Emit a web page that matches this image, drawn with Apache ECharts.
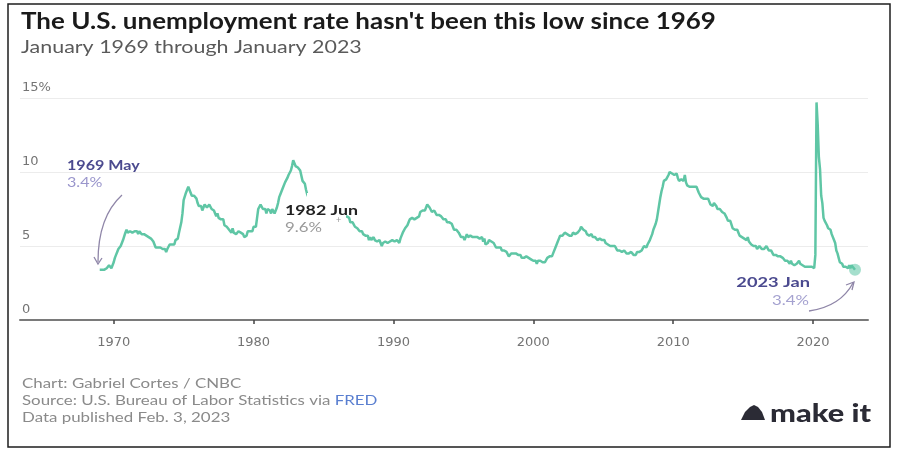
<!DOCTYPE html>
<html>
<head>
<meta charset="utf-8">
<script src="https://cdn.jsdelivr.net/npm/echarts@6/dist/echarts.min.js"></script>
<style>
  html, body { margin: 0; padding: 0; background: #ffffff; }
  #chart { width: 898px; height: 452px; }
</style>
</head>
<body>
<div id="chart"></div>
<script>
// ---- Data: U.S. unemployment rate (%), monthly, Jan 1969 - Jan 2023 ----
const startYear = 1969;
const rateByYear = [
  [3.4,3.4,3.4,3.4,3.4,3.5,3.5,3.5,3.7,3.7,3.5,3.5], // 1969
  [3.9,4.2,4.4,4.6,4.8,4.9,5.0,5.1,5.4,5.5,5.9,6.1], // 1970
  [5.9,5.9,6.0,5.9,5.9,5.9,6.0,6.1,6.0,5.8,6.0,6.0], // 1971
  [5.8,5.7,5.8,5.7,5.7,5.7,5.6,5.6,5.5,5.6,5.3,5.2], // 1972
  [4.9,5.0,4.9,5.0,4.9,4.9,4.8,4.8,4.8,4.6,4.8,4.9], // 1973
  [5.1,5.2,5.1,5.1,5.1,5.4,5.5,5.5,5.9,6.0,6.6,7.2], // 1974
  [8.1,8.1,8.6,8.8,9.0,8.8,8.6,8.4,8.4,8.4,8.3,8.2], // 1975
  [7.9,7.7,7.6,7.7,7.4,7.6,7.8,7.8,7.6,7.7,7.8,7.8], // 1976
  [7.5,7.6,7.4,7.2,7.0,7.2,6.9,7.0,6.8,6.8,6.8,6.4], // 1977
  [6.4,6.3,6.3,6.1,6.0,5.9,6.2,5.9,6.0,5.8,5.9,6.0], // 1978
  [5.9,5.9,5.8,5.8,5.6,5.7,5.7,6.0,5.9,6.0,5.9,6.0], // 1979
  [6.3,6.3,6.3,6.9,7.5,7.6,7.8,7.7,7.5,7.5,7.5,7.2], // 1980
  [7.5,7.4,7.4,7.2,7.5,7.5,7.2,7.4,7.6,7.9,8.3,8.5], // 1981
  [8.6,8.9,9.0,9.3,9.4,9.6,9.8,9.8,10.1,10.4,10.8,10.8], // 1982
  [10.4,10.4,10.3,10.2,10.1,10.1,9.4,9.5,9.2,8.8,8.5,8.3], // 1983
  [8.0,7.8,7.8,7.7,7.4,7.2,7.5,7.5,7.3,7.4,7.2,7.3], // 1984
  [7.3,7.2,7.2,7.3,7.2,7.4,7.4,7.1,7.1,7.1,7.0,7.0], // 1985
  [6.7,7.2,7.2,7.1,7.2,7.2,7.0,6.9,7.0,7.0,6.9,6.6], // 1986
  [6.6,6.6,6.6,6.3,6.3,6.2,6.1,6.0,5.9,6.0,5.8,5.7], // 1987
  [5.7,5.7,5.7,5.4,5.6,5.4,5.4,5.6,5.4,5.4,5.3,5.3], // 1988
  [5.4,5.2,5.0,5.2,5.2,5.3,5.2,5.2,5.3,5.3,5.4,5.4], // 1989
  [5.4,5.3,5.2,5.4,5.4,5.2,5.5,5.7,5.9,5.9,6.2,6.3], // 1990
  [6.4,6.6,6.8,6.7,6.9,6.9,6.8,6.9,6.9,7.0,7.0,7.3], // 1991
  [7.3,7.4,7.4,7.4,7.6,7.8,7.7,7.6,7.6,7.3,7.4,7.4], // 1992
  [7.3,7.1,7.0,7.1,7.1,7.0,6.9,6.8,6.7,6.8,6.6,6.5], // 1993
  [6.6,6.6,6.5,6.4,6.1,6.1,6.1,6.0,5.9,5.8,5.6,5.5], // 1994
  [5.6,5.4,5.4,5.8,5.6,5.6,5.7,5.7,5.6,5.5,5.6,5.6], // 1995
  [5.6,5.5,5.5,5.6,5.6,5.3,5.5,5.1,5.2,5.2,5.4,5.4], // 1996
  [5.3,5.2,5.2,5.1,4.9,5.0,4.9,4.8,4.9,4.7,4.6,4.7], // 1997
  [4.6,4.6,4.7,4.3,4.4,4.5,4.5,4.5,4.6,4.5,4.4,4.4], // 1998
  [4.3,4.4,4.2,4.3,4.2,4.3,4.3,4.2,4.2,4.1,4.1,4.0], // 1999
  [4.0,4.1,4.0,3.8,4.0,4.0,4.0,4.1,3.9,3.9,3.9,3.9], // 2000
  [4.2,4.2,4.3,4.4,4.3,4.5,4.6,4.9,5.0,5.3,5.5,5.7], // 2001
  [5.7,5.7,5.7,5.9,5.8,5.8,5.8,5.7,5.7,5.7,5.9,6.0], // 2002
  [5.8,5.9,5.9,6.0,6.1,6.3,6.2,6.1,6.1,6.0,5.8,5.7], // 2003
  [5.7,5.6,5.8,5.6,5.6,5.6,5.5,5.4,5.4,5.5,5.4,5.4], // 2004
  [5.3,5.4,5.2,5.2,5.1,5.0,5.0,4.9,5.0,5.0,5.0,4.9], // 2005
  [4.7,4.8,4.7,4.7,4.6,4.6,4.7,4.7,4.5,4.4,4.5,4.4], // 2006
  [4.6,4.5,4.4,4.5,4.4,4.6,4.7,4.6,4.7,4.7,4.7,5.0], // 2007
  [5.0,4.9,5.1,5.0,5.4,5.6,5.8,6.1,6.1,6.5,6.8,7.3], // 2008
  [7.8,8.3,8.7,9.0,9.4,9.5,9.5,9.6,9.8,10.0,9.9,9.9], // 2009
  [9.8,9.8,9.9,9.9,9.6,9.4,9.4,9.5,9.5,9.4,9.8,9.3], // 2010
  [9.1,9.0,9.0,9.1,9.0,9.1,9.0,9.0,9.0,8.8,8.6,8.5], // 2011
  [8.3,8.3,8.2,8.2,8.2,8.2,8.2,8.0,7.8,7.8,7.7,7.9], // 2012
  [8.0,7.7,7.5,7.6,7.5,7.5,7.3,7.2,7.2,7.2,6.9,6.7], // 2013
  [6.6,6.7,6.7,6.2,6.3,6.1,6.2,6.1,5.9,5.7,5.8,5.6], // 2014
  [5.7,5.5,5.4,5.4,5.6,5.3,5.2,5.1,5.0,5.0,5.1,5.0], // 2015
  [4.8,4.9,5.0,5.1,4.8,4.9,4.8,4.9,5.0,4.9,4.7,4.7], // 2016
  [4.7,4.6,4.4,4.4,4.4,4.3,4.3,4.4,4.3,4.2,4.2,4.1], // 2017
  [4.0,4.1,4.0,4.0,3.8,4.0,3.8,3.8,3.7,3.8,3.8,3.9], // 2018
  [4.0,3.8,3.8,3.7,3.6,3.6,3.7,3.6,3.5,3.6,3.6,3.6], // 2019
  [3.5,3.5,4.4,14.7,13.2,11.0,10.2,8.4,7.9,6.9,6.7,6.7], // 2020
  [6.4,6.2,6.1,6.1,5.8,5.9,5.4,5.2,4.7,4.5,4.2,3.9], // 2021
  [4.0,3.8,3.6,3.6,3.6,3.6,3.5,3.7,3.5,3.7,3.6,3.5], // 2022
  [3.4] // 2023
];
const xTickYears = [1970, 1980, 1990, 2000, 2010, 2020];
const yTickValues = [0, 5, 10, 15];
const yTickLabels = ['0', '5', '10', '15%'];

// Build [decimal-year, rate] pairs
const seriesData = [];
rateByYear.forEach((row, yi) => {
  row.forEach((v, m) => seriesData.push([startYear + yi + m / 12, v]));
});
const lastPoint = seriesData[seriesData.length - 1];

const LINE = '#5fc6a5';
const FONT = 'Lato, "Open Sans", sans-serif';
const AXFONT = '"DejaVu Sans", sans-serif';

function txt(x, y, text, font, fill, opts) {
  return Object.assign({ type: 'text', z: 100, x: x, y: y,
    style: { text: text, font: font, fill: fill, verticalAlign: 'middle', align: (opts && opts.align) || 'left' } },
    opts && opts.scaleX ? { scaleX: opts.scaleX } : {});
}

const chart = echarts.init(document.getElementById('chart'), null, { renderer: 'canvas' });

chart.setOption({
  animation: false,
  backgroundColor: '#ffffff',
  grid: { left: 20, right: 30, top: 98, bottom: 132, containLabel: false },
  xAxis: {
    type: 'value',
    min: 1963.3,
    max: 2023.93,
    axisLine: { show: true, lineStyle: { color: '#7a7a7a', width: 2 } },
    axisTick: { show: true, customValues: xTickYears, length: 4, lineStyle: { color: '#444', width: 1.5 } },
    axisLabel: { customValues: xTickYears, color: '#747474', fontSize: 13, fontFamily: AXFONT, margin: 16,
      formatter: v => String(v) },
    splitLine: { show: false }
  },
  yAxis: {
    type: 'value',
    min: 0,
    max: 15,
    interval: 5,
    axisLine: { show: false },
    axisTick: { show: false },
    axisLabel: {
      inside: true,
      margin: 2,
      verticalAlign: 'bottom',
      padding: [0, 0, 4, 0],
      color: '#747474',
      fontSize: 13,
      fontFamily: AXFONT,
      formatter: v => yTickLabels[yTickValues.indexOf(v)]
    },
    splitLine: { show: true, lineStyle: { color: '#ececec', width: 1 } }
  },
  series: [
    {
      type: 'line',
      data: seriesData,
      showSymbol: false,
      lineStyle: { color: LINE, width: 2.5 },
      z: 3
    },
    {
      type: 'scatter',
      data: [lastPoint],
      symbolSize: 12,
      itemStyle: { color: 'rgba(95,198,165,0.7)' },
      z: 4
    }
  ],
  graphic: [
    // frame
    { type: 'rect', z: 200, shape: { x: 8, y: 4, width: 882, height: 443 },
      style: { fill: 'none', stroke: '#1e1e1e', lineWidth: 1.5 } },
    // title & subtitle
    txt(21, 22, "The U.S. unemployment rate hasn't been this low since 1969", 'bold 22px ' + FONT, '#1a1a1a', { scaleX: 1.18 }),
    txt(21, 48, 'January 1969 through January 2023', '17px ' + FONT, '#5a5a5a', { scaleX: 1.26 }),
    // 1969 May annotation
    txt(67, 165, '1969 May', 'bold 14px ' + FONT, '#4b4a8f', { scaleX: 1.15 }),
    txt(67, 182, '3.4%', '14px ' + FONT, '#9a96cc', { scaleX: 1.15 }),
    { type: 'bezierCurve', z: 100, shape: { x1: 122, y1: 195, cpx1: 100, cpy1: 215, x2: 98, y2: 262, cpx2: 98, cpy2: 245 },
      style: { stroke: '#8f86a8', lineWidth: 1.3, fill: 'none' } },
    { type: 'polyline', z: 100, shape: { points: [[94, 257], [98, 264], [102, 258]] },
      style: { stroke: '#8f86a8', lineWidth: 1.3, fill: 'none' } },
    // 1982 Jun annotation (white box over line)
    { type: 'rect', z: 90, shape: { x: 307, y: 193, width: 39, height: 44 }, style: { fill: '#ffffff' } },
    txt(285, 210, '1982 Jun', 'bold 14px ' + FONT, '#222222', { scaleX: 1.27 }),
    txt(285, 227, '9.6%', '14px ' + FONT, '#9a9a9a', { scaleX: 1.2 }),
    txt(336, 220, '+', '9px ' + FONT, '#999999'),
    // 2023 Jan annotation
    txt(810, 282, '2023 Jan', 'bold 14px ' + FONT, '#4b4a8f', { align: 'right', scaleX: 1.3 }),
    txt(809, 300, '3.4%', '14px ' + FONT, '#a5a2d0', { align: 'right', scaleX: 1.2 }),
    { type: 'bezierCurve', z: 100, shape: { x1: 809, y1: 311, cpx1: 830, cpy1: 308, x2: 853, y2: 283, cpx2: 845, cpy2: 298 },
      style: { stroke: '#8f86a8', lineWidth: 1.3, fill: 'none' } },
    { type: 'polyline', z: 100, shape: { points: [[846, 285], [854, 282], [852, 290]] },
      style: { stroke: '#8f86a8', lineWidth: 1.3, fill: 'none' } },
    // footer
    txt(22, 384, 'Chart: Gabriel Cortes / CNBC', '13px ' + FONT, '#8a8a8a', { scaleX: 1.3 }),
    { type: 'text', z: 100, x: 22, y: 401, scaleX: 1.3, style: {
      text: '{a|Source: U.S. Bureau of Labor Statistics via }{b|FRED}',
      verticalAlign: 'middle',
      rich: { a: { font: '13px ' + FONT, fill: '#8a8a8a' }, b: { font: '13px ' + FONT, fill: '#5a7fd0' } } } },
    txt(22, 418, 'Data published Feb. 3, 2023', '13px ' + FONT, '#8a8a8a', { scaleX: 1.3 }),
    // logo
    { type: 'polygon', z: 100, shape: { points: [[741, 420], [745, 412], [750, 407], [754, 405], [758, 407], [762, 412], [765, 420]] },
      style: { fill: '#2b2b35' } },
    txt(770, 414, 'make it', '900 24px ' + FONT, '#2b2b35', { scaleX: 1.28 })
  ]
});
</script>
</body>
</html>
